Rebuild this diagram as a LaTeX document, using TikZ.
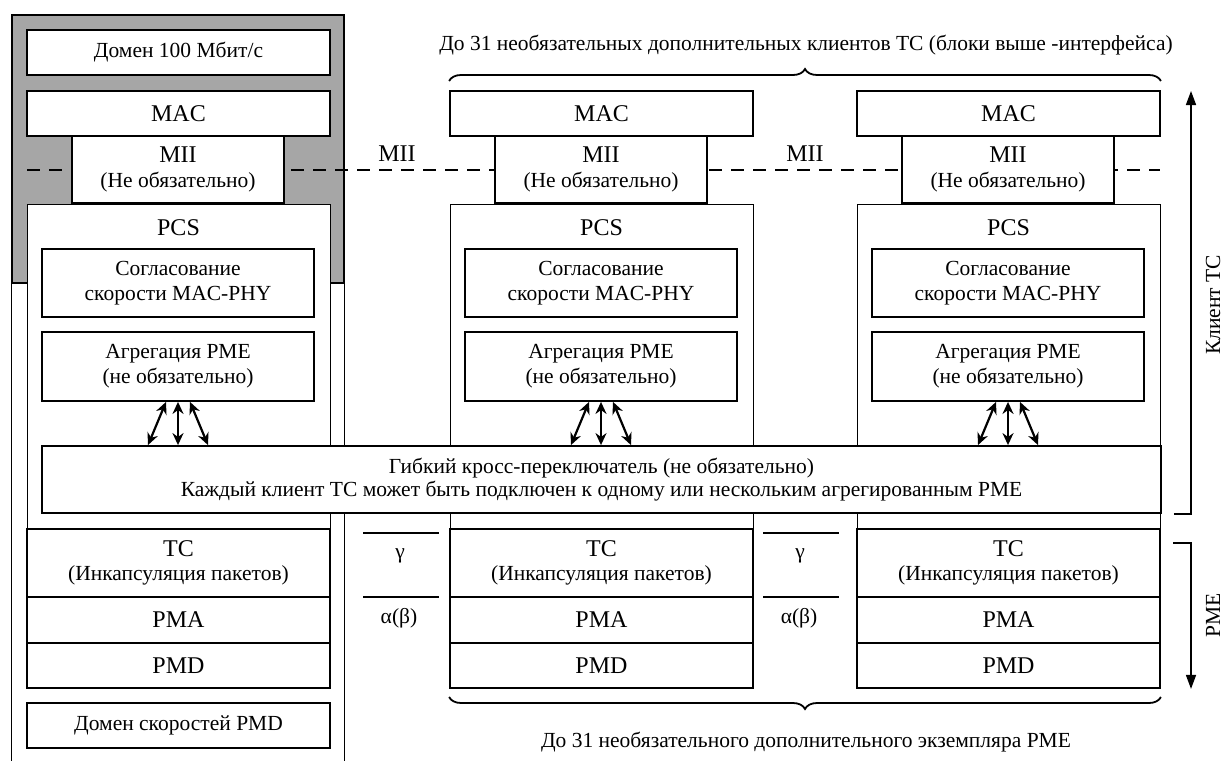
\documentclass[tikz,border=0pt]{standalone}
\usepackage{fontspec}
\setmainfont{Liberation Serif}
\usetikzlibrary{calc,decorations.pathreplacing,arrows.meta}
\definecolor{gfill}{RGB}{166,166,166}
\newcommand\bx[7]{\node[#6, minimum width={((#4)-(#2))*1pt}, minimum height={((#5)-(#3))*1pt}] (#1) at ({((#2)+(#4))/2},{((#3)+(#5))/2}) {#7};}
\newcommand\bigf{\fontsize{24}{25}\selectfont}
\tikzset{
  box/.style={draw, line width=1.8pt, fill=white, inner sep=0pt, align=center, font=\fontsize{21.5}{25}\selectfont},
  bigbox/.style={box, font=\bigf},
  thinbox/.style={draw, line width=0.9pt, fill=white, inner sep=0pt},
  lbl/.style={inner sep=0pt, font=\fontsize{21.5}{24}\selectfont, align=center},
  biglbl/.style={inner sep=0pt, font=\bigf},
  arr/.style={{Stealth[length=12pt,width=11pt]}-{Stealth[length=12pt,width=11pt]}, line width=2.2pt},
  brk/.style={line width=1.5pt, -{Triangle[length=14pt,width=10pt]}},
  brc/.style={line width=1.8pt, decorate, decoration={brace, amplitude=12pt}},
  bar/.style={line width=2.5pt}
}
\begin{document}
\begin{tikzpicture}[x=1pt,y=-1pt]
\useasboundingbox (0,0) rectangle (1225,760);
% grey client block of the left column
\bx{grayL}{12}{15}{344}{283}{draw, line width=1.2pt, fill=gfill}{}
\draw[line width=0.9pt] (grayL.south west) -- ++(0,480);
\draw[line width=0.9pt] (grayL.south east) -- ++(0,480);
% columns
\foreach \c/\o in {L/0,M/423,R/830}{
  \bx{pcs\c}{27+\o}{204}{330+\o}{528}{thinbox}{}
  \node[biglbl] (pcst\c) at ($(pcs\c.north)+(0,24)$) {PCS};
  \bx{mac\c}{27+\o}{91}{330+\o}{136}{bigbox}{MAC}
  \bx{sog\c}{42+\o}{249}{314+\o}{317}{box}{Согласование\\скорости MAC-PHY}
  \bx{agg\c}{42+\o}{332}{314+\o}{401}{box}{Агрегация PME\\(не обязательно)}
  \bx{tc\c}{27+\o}{529}{330+\o}{597}{box}{{\bigf TC}\\[-1pt](Инкапсуляция пакетов)}
  \bx{pma\c}{27+\o}{597}{330+\o}{643}{bigbox}{PMA}
  \bx{pmd\c}{27+\o}{643}{330+\o}{688}{bigbox}{PMD}
}
\bx{domL}{27}{30}{330}{75}{box}{Домен 100 Мбит/с}
\bx{dspL}{27}{703}{330}{748}{box}{Домен скоростей PMD}
% MII dashed line
\coordinate (dl) at (27,170);
\coordinate (dr) at (1160,170);
\draw[line width=1.8pt, dash pattern=on 13pt off 9pt] (dl) -- (dr);
\foreach \c/\o in {L/0,M/423,R/830}{
  \bx{mii\c}{72+\o}{136}{284+\o}{203}{box}{{\bigf MII}\\[0pt](Не обязательно)}
}
\node[biglbl] (miit1) at (397,154) {MII};
\node[biglbl] (miit2) at (805,154) {MII};
% cross switch
\bx{crs}{42}{446}{1161}{513}{box}{Гибкий кросс-переключатель (не обязательно)\\[-2pt]Каждый клиент TC может быть подключен к одному или нескольким агрегированным PME}
% arrows
\foreach \c in {L,M,R}{
  \draw[arr] ($(agg\c.south)+(-12,0)$) -- ($(crs.north -| agg\c.south)+(-30,0)$);
  \draw[arr] (agg\c.south) -- (crs.north -| agg\c.south);
  \draw[arr] ($(agg\c.south)+(12,0)$) -- ($(crs.north -| agg\c.south)+(30,0)$);
}
% gamma / alpha(beta)
\foreach \x/\n in {363/1,763/2}{
  \draw[bar] (\x,533) -- ++(76,0);
  \draw[bar] (\x,597) -- ++(76,0);
  \node[lbl] (g\n) at (\x+37,556) {γ};
  \node[lbl] (a\n) at (\x+36,618) {α(β)};
}
% right brackets
\coordinate (kb) at ($(crs.south east)+(12,0)$);
\coordinate (kt) at (1191,91);
\draw[brk] (kb) -- (kb -| kt) -- (kt);
\node[lbl, rotate=90] (klt) at (1213,305) {Клиент TC};
\coordinate (pb) at (1173,543);
\coordinate (pe) at (pmdR.south -| kt);
\draw[brk] (pb) -- (pb -| kt) -- (pe);
\node[lbl, rotate=90] (pmet) at (1213,615) {PME};
% braces
\draw[brc] (macM.north west |- 0,81) -- (macR.north east |- 0,81);
\node[lbl] (toptxt) at (806,45) {До 31 необязательных дополнительных клиентов TC (блоки выше -интерфейса)};
\draw[brc] (pmdR.south east |- 0,697) -- (pmdM.south west |- 0,697);
\node[lbl] (bottxt) at (806,742) {До 31 необязательного дополнительного экземпляра PME};
\end{tikzpicture}
\end{document}
